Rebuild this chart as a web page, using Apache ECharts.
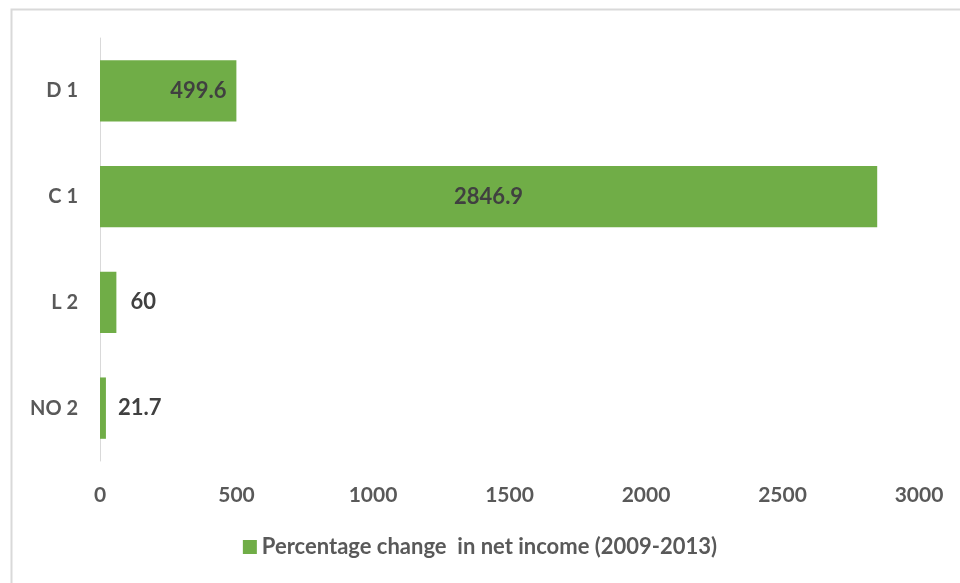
<!DOCTYPE html>
<html>
<head>
<meta charset="utf-8">
<script src="https://cdn.jsdelivr.net/npm/echarts@6/dist/echarts.min.js"></script>
<style>
html,body{margin:0;padding:0;background:#fff;}
#c{width:960px;height:583px;}
</style>
</head>
<body>
<div id="c"></div>
<script>
var categories = ['NO 2', 'L 2', 'C 1', 'D 1'];
var values = [21.7, 60, 2846.9, 499.6];
var seriesName = 'Percentage change  in net income (2009-2013)';
var xTicks = [0, 500, 1000, 1500, 2000, 2500, 3000];

var labelPos = ['right', 'right', 'inside', 'insideRight'];
var labelDist = [12, 14, 5, 10];

var chart = echarts.init(document.getElementById('c'));
var FONT = 'Lato, "Open Sans", sans-serif';
chart.setOption({
  animation: false,
  graphic: [{
    type: 'rect', silent: true, z: -1,
    shape: {x: 11.5, y: 9.5, width: 1000, height: 1000},
    style: {fill: 'none', stroke: '#d9d9d9', lineWidth: 2}
  }],
  grid: {left: 100, right: 41, top: 38, height: 423, containLabel: false},
  legend: {
    bottom: 20, left: 'center',
    itemWidth: 14, itemHeight: 14, itemGap: 8,
    icon: 'rect',
    textStyle: {color: '#595959', fontSize: 22, fontFamily: FONT, fontWeight: 'bold'},
    data: [seriesName]
  },
  xAxis: {
    type: 'value', min: 0, max: 3000, interval: 500,
    axisLine: {show: false}, axisTick: {show: false},
    splitLine: {show: false},
    axisLabel: {color: '#595959', fontSize: 21, fontFamily: FONT, fontWeight: 'bold', margin: 24,
      formatter: function (v) { return xTicks.indexOf(v) >= 0 ? String(v) : ''; }}
  },
  yAxis: {
    type: 'category', data: categories,
    axisLine: {show: true, lineStyle: {color: '#d9d9d9', width: 1}},
    axisTick: {show: false},
    axisLabel: {color: '#595959', fontSize: 20, fontFamily: FONT, fontWeight: 'bold', margin: 22}
  },
  series: [{
    name: seriesName, type: 'bar', barCategoryGap: '42%',
    itemStyle: {color: '#70AD47'},
    data: values.map(function (v, i) {
      return {value: v, label: {position: labelPos[i], distance: labelDist[i]}};
    }),
    label: {show: true, color: '#404040', fontSize: 22, fontWeight: 'bold', fontFamily: FONT}
  }]
});
</script>
</body>
</html>
